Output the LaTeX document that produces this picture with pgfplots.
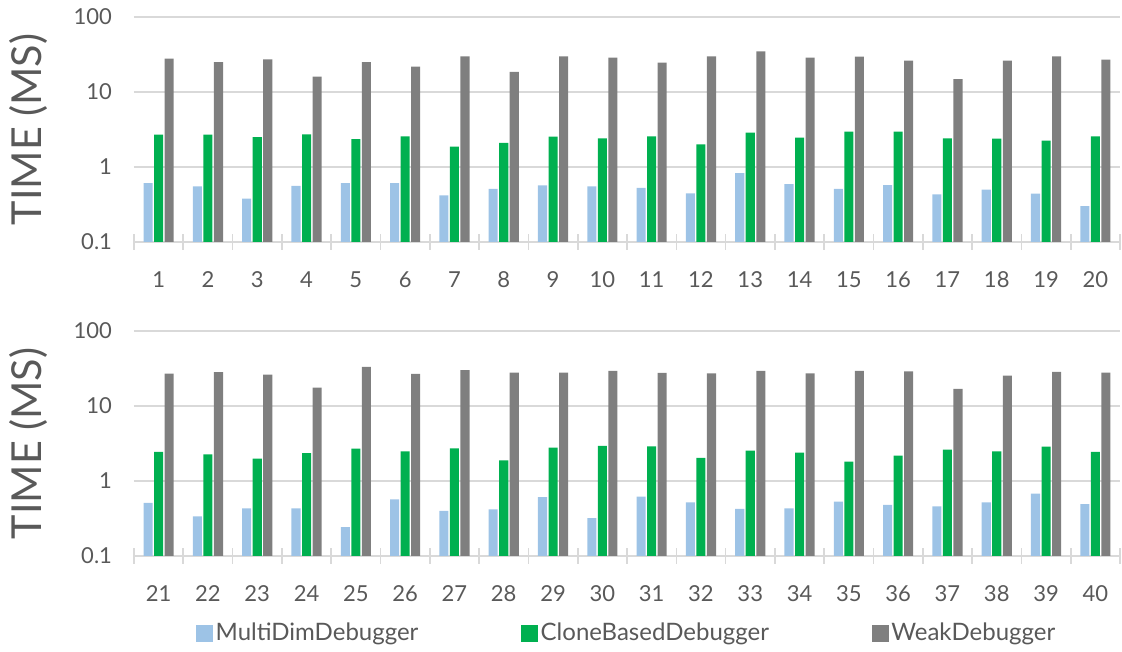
\documentclass[border=0pt]{standalone}
\usepackage{fontspec}
\setmainfont{Lato}
\usepackage{pgfplots}
\usepackage{pgfplotstable}
\pgfplotsset{compat=1.18}
\definecolor{cblue}{HTML}{9DC3E6}
\definecolor{cgreen}{HTML}{00B050}
\definecolor{cgray}{HTML}{7F7F7F}
\definecolor{cgrid}{HTML}{D9D9D9}
\definecolor{ctext}{HTML}{595959}

\pgfplotstableread{
x a b c
1 0.61 2.70 27.8
2 0.55 2.70 25.1
3 0.38 2.51 27.3
4 0.56 2.73 16.0
5 0.61 2.36 25.1
6 0.61 2.56 21.8
7 0.42 1.87 29.9
8 0.51 2.09 18.5
9 0.57 2.54 29.9
10 0.55 2.41 28.7
11 0.525 2.56 24.6
12 0.445 2.00 29.9
13 0.83 2.87 34.8
14 0.59 2.46 28.7
15 0.51 2.96 29.6
16 0.575 2.96 26.2
17 0.43 2.41 14.8
18 0.50 2.39 26.2
19 0.44 2.24 29.9
20 0.30 2.56 27.0
}\topdata

\pgfplotstableread{
x a b c
21 0.51 2.44 27.1
22 0.337 2.27 28.2
23 0.43 1.99 26.2
24 0.43 2.36 17.6
25 0.243 2.70 33.2
26 0.57 2.49 26.8
27 0.40 2.73 30.0
28 0.417 1.89 27.9
29 0.61 2.78 27.9
30 0.32 2.93 29.4
31 0.62 2.90 27.6
32 0.52 2.03 27.3
33 0.425 2.54 29.4
34 0.43 2.39 27.3
35 0.53 1.81 29.4
36 0.48 2.18 29.0
37 0.46 2.62 16.9
38 0.52 2.49 25.5
39 0.68 2.87 28.5
40 0.49 2.44 27.9
}\botdata

\begin{document}
\begin{tikzpicture}
\path[use as bounding box] (-100.5pt,-307.5pt) rectangle (741pt,181.5pt);
\begin{axis}[
    width=739.5pt, height=168.75pt, scale only axis,
    ymode=log, log origin=infty, ymin=0.1, ymax=100,
    xmin=0.5, xmax=20.5, xtick={1,...,20},
    minor xtick={0.5,1.5,...,20.5},
    ybar=1.1pt, bar width=6.8pt,
    axis x line*=bottom, axis y line*=left,
    y axis line style={draw=none},
    x axis line style={draw=cgrid, line width=1.2pt, -},
    ytick={0.1,1,10,100}, yticklabels={0.1,1,10,100},
    yminorticks=false,
    ytick style={draw=none},
    ymajorgrids, grid style={draw=cgrid, line width=0.9pt},
    major tick length=0pt,
    minor tick length=12pt,
    xtick align=center,
    minor tick style={draw=cgrid, line width=1.2pt},
    /pgf/number format/assume math mode=true,
    tick label style={font=\fontsize{16.5}{19}\selectfont, text=ctext},
    yticklabel style={xshift=-13pt},
    xticklabel style={yshift=-19pt},
    ylabel={TIME (MS)},
    ylabel style={font=\fontsize{31}{36}\selectfont, text=ctext, at={(axis description cs:-0.1075,0.5)}, anchor=center},
    clip=false,
  ]
\addplot[fill=cblue, draw=none] table[x=x,y=a]{\topdata};
\addplot[fill=cgreen, draw=none] table[x=x,y=b]{\topdata};
\addplot[fill=cgray, draw=none] table[x=x,y=c]{\topdata};
\end{axis}
\begin{axis}[
    at={(0pt,-235.5pt)},
    width=739.5pt, height=168.75pt, scale only axis,
    ymode=log, log origin=infty, ymin=0.1, ymax=100,
    xmin=20.5, xmax=40.5, xtick={21,...,40},
    minor xtick={20.5,21.5,...,40.5},
    ybar=1.1pt, bar width=6.8pt,
    axis x line*=bottom, axis y line*=left,
    y axis line style={draw=none},
    x axis line style={draw=cgrid, line width=1.2pt, -},
    ytick={0.1,1,10,100}, yticklabels={0.1,1,10,100},
    yminorticks=false,
    ytick style={draw=none},
    ymajorgrids, grid style={draw=cgrid, line width=0.9pt},
    major tick length=0pt,
    minor tick length=12pt,
    xtick align=center,
    minor tick style={draw=cgrid, line width=1.2pt},
    /pgf/number format/assume math mode=true,
    tick label style={font=\fontsize{16.5}{19}\selectfont, text=ctext},
    yticklabel style={xshift=-13pt},
    xticklabel style={yshift=-19pt},
    ylabel={TIME (MS)},
    ylabel style={font=\fontsize{31}{36}\selectfont, text=ctext, at={(axis description cs:-0.1075,0.5)}, anchor=center},
    clip=false,
    legend columns=3,
    legend image code/.code={\fill[#1] (0pt,-6.4pt) rectangle (12.75pt,6.35pt);},
    legend style={at={(axis description cs:0.5,0)}, anchor=center, yshift=-57.75pt,
      draw=none, font=\fontsize{18}{21}\selectfont, text=ctext,
      /tikz/every even column/.append style={column sep=75pt}},
  ]
\addplot[fill=cblue, draw=none] table[x=x,y=a]{\botdata};
\addplot[fill=cgreen, draw=none] table[x=x,y=b]{\botdata};
\addplot[fill=cgray, draw=none] table[x=x,y=c]{\botdata};
\legend{MultiDimDebugger, CloneBasedDebugger, WeakDebugger}
\end{axis}
\end{tikzpicture}
\end{document}
